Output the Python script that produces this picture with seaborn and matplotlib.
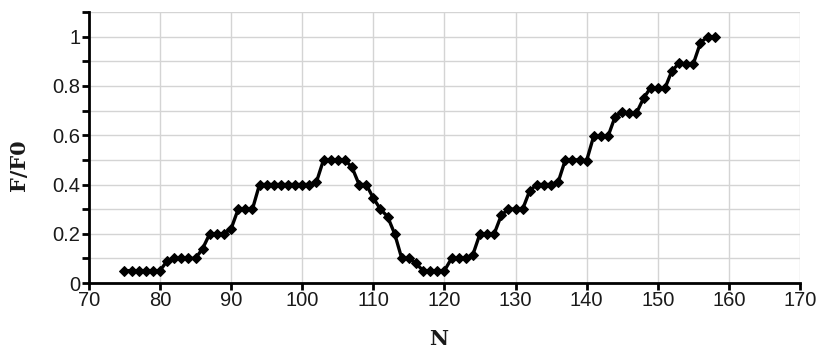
import numpy as np
import pandas as pd
import matplotlib
matplotlib.use("Agg")
import matplotlib.pyplot as plt
import seaborn as sns
from matplotlib.ticker import MultipleLocator, FuncFormatter

# Relative force F/F0 versus cycle count N
n_values = list(range(75, 159))
ratio_values = [
    0.05, 0.05, 0.05, 0.05, 0.05, 0.05,            # 75-80
    0.09, 0.10, 0.10, 0.10, 0.10,                  # 81-85
    0.14, 0.20, 0.20, 0.20, 0.22,                  # 86-90
    0.30, 0.30, 0.30,                              # 91-93
    0.40, 0.40, 0.40, 0.40, 0.40, 0.40, 0.40, 0.40, 0.41,  # 94-102
    0.50, 0.50, 0.50, 0.50,                        # 103-106
    0.47, 0.40, 0.40, 0.345, 0.30, 0.27, 0.20,     # 107-113
    0.10, 0.10, 0.08,                              # 114-116
    0.05, 0.05, 0.05, 0.05,                        # 117-120
    0.10, 0.10, 0.10, 0.115,                       # 121-124
    0.20, 0.20, 0.20, 0.275,                       # 125-128
    0.30, 0.30, 0.30, 0.375,                       # 129-132
    0.40, 0.40, 0.40, 0.41,                        # 133-136
    0.50, 0.50, 0.50, 0.497,                       # 137-140
    0.597, 0.595, 0.595, 0.675,                    # 141-144
    0.695, 0.69, 0.69, 0.75,                       # 145-148
    0.793, 0.79, 0.79, 0.862,                      # 149-152
    0.892, 0.89, 0.89, 0.975,                      # 153-156
    1.00, 1.00,                                    # 157-158
]

df = pd.DataFrame({"N": n_values, "F/F0": ratio_values})

sns.set_theme(style="white")
plt.rcParams["font.family"] = ["Liberation Sans", "DejaVu Sans"]

fig = plt.figure(figsize=(8.23, 3.56), dpi=100)
ax = fig.add_axes([0.108, 0.205, 0.864, 0.761])

sns.lineplot(data=df, x="N", y="F/F0", ax=ax, color="black", linewidth=2.4,
             marker="D", markersize=5.5, markeredgecolor="black",
             markerfacecolor="black", zorder=3)

ax.set_xlim(70, 170)
ax.set_ylim(0, 1.1)
ax.xaxis.set_major_locator(MultipleLocator(10))
ax.yaxis.set_major_locator(MultipleLocator(0.2))
ax.yaxis.set_minor_locator(MultipleLocator(0.1))
ax.yaxis.set_major_formatter(FuncFormatter(lambda v, p: f"{v:g}"))

ax.grid(True, which="major", color="#d4d4d4", linewidth=1.0)
ax.grid(True, which="minor", axis="y", color="#d4d4d4", linewidth=1.0)
ax.set_axisbelow(True)

for side in ("top", "right"):
    ax.spines[side].set_visible(False)
for side in ("left", "bottom"):
    ax.spines[side].set_color("black")
    ax.spines[side].set_linewidth(2.0)

ax.tick_params(axis="both", which="major", direction="out", length=5,
               width=2, color="black", labelsize=14.5, labelcolor="#1a1a1a",
               left=True, bottom=True, pad=1)
ax.tick_params(axis="y", which="minor", direction="out", length=5,
               width=2, color="black", left=True)

label_font = dict(family="DejaVu Serif", weight="bold", size=15, color="#1a1a1a")
ax.set_xlabel("N", fontdict=label_font)
ax.set_ylabel("F/F0", fontdict=label_font)
ax.xaxis.label.set_va("center")
ax.yaxis.label.set_va("center")
ax.xaxis.set_label_coords(0.492, -0.207)
ax.yaxis.set_label_coords(-0.098, 0.435)

fig.savefig("out.png", dpi=100)
